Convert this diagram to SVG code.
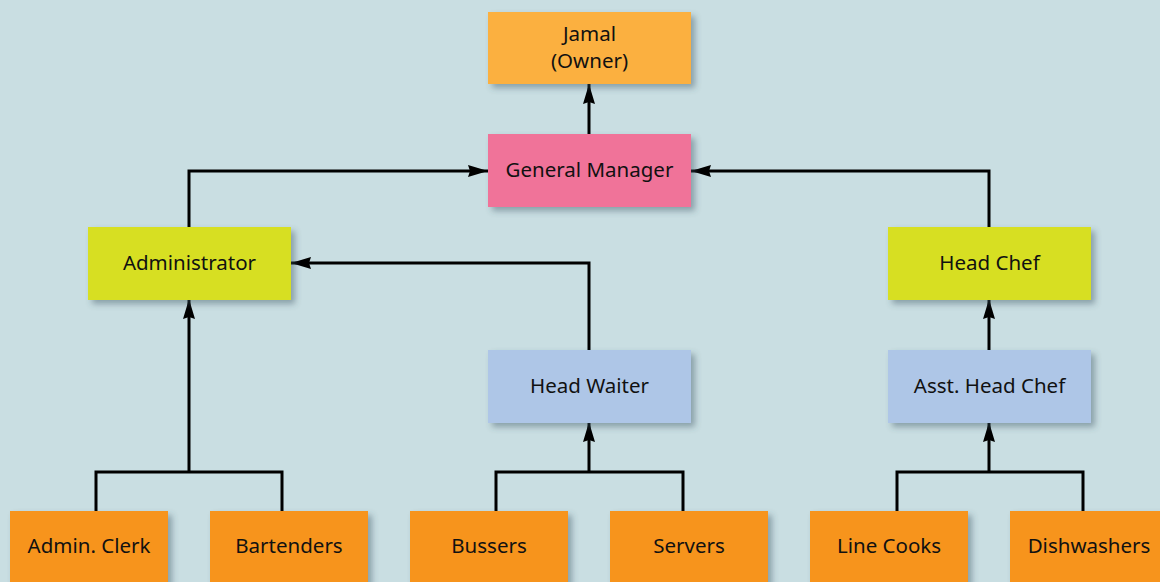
<svg xmlns="http://www.w3.org/2000/svg" width="1160" height="582" viewBox="0 0 1160 582">
  <defs>
    <filter id="shadow" x="-10%" y="-20%" width="130%" height="150%">
      <feDropShadow dx="4" dy="4" stdDeviation="3" flood-color="#3a5560" flood-opacity="0.45"/>
    </filter>
    <marker id="arrow" viewBox="0 0 20 12" refX="20" refY="6" markerWidth="20" markerHeight="12" markerUnits="userSpaceOnUse" orient="auto">
      <path d="M0,0 L20,6 L0,12 L2,6 z" fill="#000"/>
    </marker>
    <style>
      .box { filter: url(#shadow); }
      .owner { fill: #fbb040; }
      .gm { fill: #f07399; }
      .lead { fill: #d7df23; }
      .head { fill: #aec6e7; }
      .staff { fill: #f7941d; }
      text { font-family: "Noto Sans", "Liberation Sans", sans-serif; font-size: 20.5px; fill: #111; text-anchor: middle; }
      .conn { fill: none; stroke: #000; stroke-width: 3; }
      .arr { marker-end: url(#arrow); }
    </style>
  </defs>

  <rect width="1160" height="582" fill="#c9dee2"/>

  <!-- reporting lines -->
  <g id="connectors">
    <path class="conn arr" d="M589,134 V84"/>
    <path class="conn arr" d="M189,227 V171 H488"/>
    <path class="conn arr" d="M989,227 V171 H691"/>
    <path class="conn arr" d="M589,350 V263 H291"/>
    <path class="conn arr" d="M989,350 V299"/>
    <path class="conn" d="M96,511 V472 H282 V511"/>
    <path class="conn arr" d="M189,472 V299"/>
    <path class="conn" d="M496,511 V472 H683 V511"/>
    <path class="conn arr" d="M589,472 V422"/>
    <path class="conn" d="M897,511 V472 H1083 V511"/>
    <path class="conn arr" d="M989,472 V422"/>
  </g>

  <g id="owner">
    <rect class="box owner" x="488" y="12" width="203" height="72"/>
    <text x="589.5" y="41">Jamal</text>
    <text x="589.5" y="68">(Owner)</text>
  </g>
  <g id="general-manager">
    <rect class="box gm" x="488" y="134" width="203" height="73"/>
    <text x="589.5" y="177">General Manager</text>
  </g>
  <g id="administrator">
    <rect class="box lead" x="88" y="227" width="203" height="73"/>
    <text x="189.5" y="270">Administrator</text>
  </g>
  <g id="head-chef">
    <rect class="box lead" x="888" y="227" width="203" height="73"/>
    <text x="989.5" y="270">Head Chef</text>
  </g>
  <g id="head-waiter">
    <rect class="box head" x="488" y="350" width="203" height="73"/>
    <text x="589.5" y="393">Head Waiter</text>
  </g>
  <g id="asst-head-chef">
    <rect class="box head" x="888" y="350" width="203" height="73"/>
    <text x="989.5" y="393">Asst. Head Chef</text>
  </g>
  <g id="admin-clerk">
    <rect class="box staff" x="10" y="511" width="158" height="80"/>
    <text x="89" y="553">Admin. Clerk</text>
  </g>
  <g id="bartenders">
    <rect class="box staff" x="210" y="511" width="158" height="80"/>
    <text x="289" y="553">Bartenders</text>
  </g>
  <g id="bussers">
    <rect class="box staff" x="410" y="511" width="158" height="80"/>
    <text x="489" y="553">Bussers</text>
  </g>
  <g id="servers">
    <rect class="box staff" x="610" y="511" width="158" height="80"/>
    <text x="689" y="553">Servers</text>
  </g>
  <g id="line-cooks">
    <rect class="box staff" x="810" y="511" width="158" height="80"/>
    <text x="889" y="553">Line Cooks</text>
  </g>
  <g id="dishwashers">
    <rect class="box staff" x="1010" y="511" width="158" height="80"/>
    <text x="1089" y="553">Dishwashers</text>
  </g>
</svg>
